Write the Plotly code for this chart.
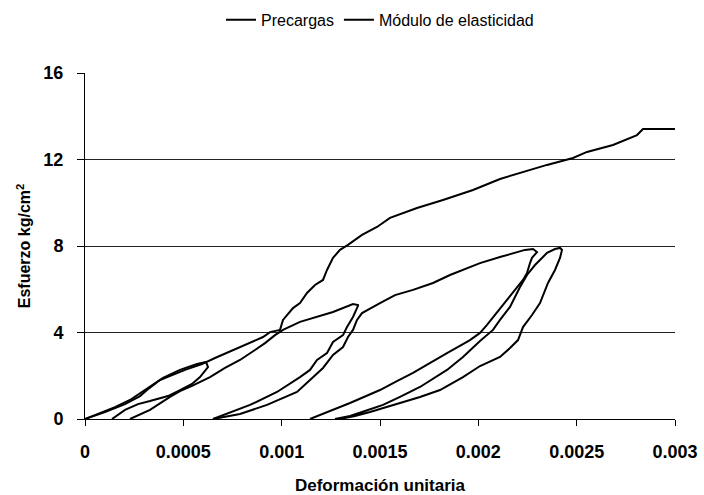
import plotly.graph_objects as go

# ---- Data (strain in units of 1e-3, stress kg/cm2) ----
# Precargas: four load/unload cycles
c1_load_x = [0, 0.0763, 0.1525, 0.2288, 0.3051, 0.3966, 0.4831, 0.5695, 0.6153]
c1_load_y = [0, 0.28, 0.55, 0.88, 1.34, 1.90, 2.27, 2.54, 2.64]
c1_unl_x = [0.6254, 0.5847, 0.5441, 0.4831, 0.4220, 0.3305, 0.2695, 0.2034, 0.1373]
c1_unl_y = [2.40, 1.94, 1.62, 1.34, 1.06, 0.83, 0.69, 0.42, 0]

c2_load_x = [0.2288, 0.3305, 0.4322, 0.4831, 0.5441, 0.6356, 0.7119, 0.7881, 0.8644,
             0.9153, 0.9661, 1.0068, 1.0932, 1.1797, 1.2610, 1.3627, 1.3881]
c2_load_y = [0, 0.42, 1.02, 1.29, 1.53, 1.94, 2.36, 2.73, 3.19,
             3.51, 3.88, 4.12, 4.49, 4.72, 4.95, 5.32, 5.27]
c2_unl_x = [1.3881, 1.3729, 1.3627, 1.3322, 1.3119, 1.2610, 1.2305, 1.1797, 1.1441,
            1.0932, 0.9763, 0.8390, 0.6610, 0.6508]
c2_unl_y = [5.23, 4.95, 4.72, 4.25, 3.88, 3.56, 3.05, 2.73, 2.27,
            1.94, 1.25, 0.65, 0.05, 0]

c3_load_x = [0.6508, 0.7881, 0.9254, 1.0780, 1.1441, 1.2102, 1.2610, 1.3119, 1.3373,
             1.3627, 1.3831, 1.4085, 1.5000, 1.5763, 1.6678, 1.7695, 1.8559, 2.0085,
             2.1102, 2.1763, 2.2373, 2.2780]
c3_load_y = [0, 0.23, 0.65, 1.25, 1.80, 2.36, 2.96, 3.33, 3.79,
             4.12, 4.58, 4.90, 5.36, 5.73, 5.97, 6.29, 6.66, 7.21,
             7.49, 7.68, 7.82, 7.86]
c3_unl_x = [2.2983, 2.2729, 2.2627, 2.2475, 2.2271, 2.1864, 2.1458, 2.0746, 2.0441,
            2.0085, 1.9576, 1.8407, 1.7542, 1.6678, 1.5763, 1.5000, 1.3475, 1.2458, 1.1441]
c3_unl_y = [7.72, 7.45, 7.21, 6.75, 6.43, 5.97, 5.50, 4.67, 4.35,
            3.98, 3.65, 3.05, 2.59, 2.13, 1.71, 1.34, 0.74, 0.37, 0]

c4_load_x = [1.2712, 1.3475, 1.4237, 1.5153, 1.6017, 1.7034, 1.8407, 1.9220, 2.0085,
             2.0746, 2.1102, 2.1610, 2.1864, 2.2119, 2.2475, 2.2881, 2.3492, 2.3898, 2.4153]
c4_load_y = [0, 0.14, 0.37, 0.65, 1.02, 1.48, 2.27, 2.87, 3.61,
             4.12, 4.58, 5.18, 5.64, 6.10, 6.66, 7.12, 7.68, 7.86, 7.91]
c4_unl_x = [2.4254, 2.4153, 2.3898, 2.3542, 2.3390, 2.3136, 2.2729, 2.2271, 2.2017,
            2.1610, 2.1102, 2.0085, 1.9220, 1.8051, 1.7034, 1.6017, 1.5356, 1.4492,
            1.3729, 1.2966]
c4_unl_y = [7.82, 7.45, 6.89, 6.29, 5.97, 5.36, 4.81, 4.25, 3.65,
            3.28, 2.87, 2.45, 1.94, 1.34, 1.02, 0.74, 0.55, 0.32,
            0.14, 0]

# Módulo de elasticidad: final loading curve
mod_x = [0, 0.1017, 0.2034, 0.2797, 0.3153, 0.3814, 0.5085, 0.5949, 0.6610, 0.7525,
         0.8390, 0.9051, 0.9407, 0.9915, 1.0068, 1.0576, 1.0932, 1.1288, 1.1695, 1.2102,
         1.2305, 1.2610, 1.2966, 1.3373, 1.4085, 1.4847, 1.5508, 1.6881, 1.8203, 1.9729,
         2.1102, 2.2119, 2.3492, 2.4814, 2.5525, 2.6847, 2.8068, 2.8373, 3.0]
mod_y = [0, 0.32, 0.69, 1.06, 1.34, 1.80, 2.27, 2.54, 2.82, 3.19,
         3.51, 3.79, 4.02, 4.12, 4.58, 5.13, 5.36, 5.83, 6.20, 6.43,
         6.89, 7.45, 7.82, 8.05, 8.51, 8.88, 9.30, 9.76, 10.13, 10.59,
         11.10, 11.38, 11.75, 12.07, 12.35, 12.67, 13.13, 13.41, 13.41]

x_ticks = [0, 0.0005, 0.001, 0.0015, 0.002, 0.0025, 0.003]
x_tick_labels = ["0", "0.0005", "0.001", "0.0015", "0.002", "0.0025", "0.003"]
y_ticks = [0, 4, 8, 12, 16]

SCALE = 1e-3


def join(*segs):
    xs, ys = [], []
    for sx, sy in segs:
        if xs:
            xs.append(None)
            ys.append(None)
        xs.extend([v * SCALE for v in sx])
        ys.extend(sy)
    return xs, ys


pre_x, pre_y = join(
    (c1_load_x + c1_unl_x, c1_load_y + c1_unl_y),
    (c2_load_x + c2_unl_x, c2_load_y + c2_unl_y),
    (c3_load_x + c3_unl_x, c3_load_y + c3_unl_y),
    (c4_load_x + c4_unl_x, c4_load_y + c4_unl_y),
)
m_x = [v * SCALE for v in mod_x]

FONT = "Liberation Sans, Arial, sans-serif"

fig = go.Figure()
fig.add_trace(go.Scatter(x=pre_x, y=pre_y, mode="lines", name="Precargas",
                         line=dict(color="black", width=2), connectgaps=False))
fig.add_trace(go.Scatter(x=m_x, y=mod_y, mode="lines", name="Módulo de elasticidad",
                         line=dict(color="black", width=2)))

fig.update_layout(
    width=704, height=495,
    margin=dict(l=85, r=29, t=73, b=76, autoexpand=False),
    paper_bgcolor="white", plot_bgcolor="white",
    font=dict(family=FONT, color="black", size=14),
    showlegend=True,
    legend=dict(orientation="h", x=0.5, xanchor="center",
                yref="container", y=0.96, yanchor="middle",
                font=dict(size=16, family=FONT), itemwidth=30,
                bgcolor="rgba(0,0,0,0)"),
    xaxis=dict(range=[0, 0.003], tickvals=x_ticks, ticktext=x_tick_labels,
               automargin=False,
               showgrid=False, zeroline=False, showline=True, linecolor="black",
               linewidth=1, ticks="outside", ticklen=6, tickcolor="black",
               ticklabelstandoff=10,
               tickfont=dict(size=18, family=FONT, weight="bold"),
               title=dict(text="<b>Deformación unitaria</b>", font=dict(size=17, family=FONT),
                          standoff=20)),
    yaxis=dict(range=[0, 16], tickvals=y_ticks, showgrid=True, gridcolor="#222222",
               automargin=False,
               gridwidth=1, zeroline=False, showline=True, linecolor="black",
               linewidth=1, ticks="outside", ticklen=7, tickcolor="black",
               ticklabelstandoff=10,
               tickfont=dict(size=18, family=FONT, weight="bold"),
               title=dict(text="<b>Esfuerzo kg/cm<sup>2</sup></b>",
                          font=dict(size=16, family=FONT), standoff=8)),
)

fig.write_html("out.html")
